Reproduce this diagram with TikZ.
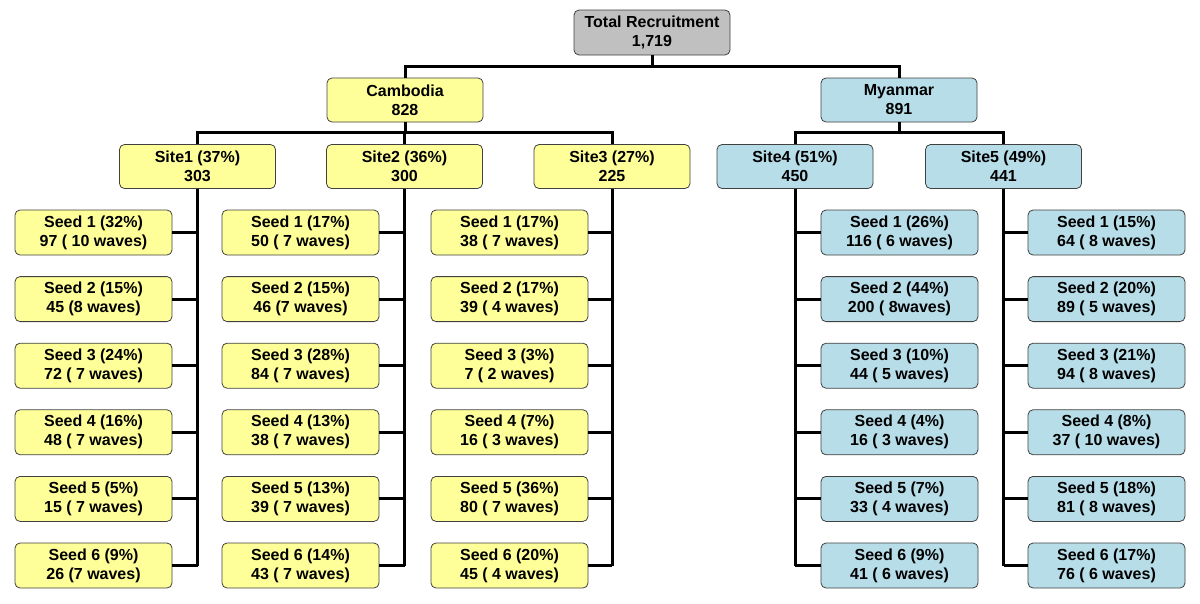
\documentclass[tikz,border=0pt]{standalone}
\usepackage{fontspec}
\setmainfont{Liberation Sans}
\definecolor{yel}{HTML}{FFFF99}
\definecolor{blu}{HTML}{B7DDE8}
\definecolor{gry}{HTML}{C0C0C0}
\begin{document}
\begin{tikzpicture}[x=1pt,y=-1pt,
  box/.style={draw=black!75, line width=0.8pt, rounded corners=5pt, minimum width=156pt, minimum height=44pt, inner sep=0pt, align=center, font=\bfseries\fontsize{16}{19}\selectfont},
  ybox/.style={box, fill=yel},
  bbox/.style={box, fill=blu},
  gbox/.style={box, fill=gry, minimum height=45pt},
  conn/.style={line width=3pt, black}]
\useasboundingbox (0,0) rectangle (1200,603);
\node[gbox] (T) at (652,32.5) {Total Recruitment\\1,719};
\node[ybox] (C) at (405,100) {Cambodia\\828};
\node[bbox] (M) at (899,100) {Myanmar\\891};
\node[ybox] (S1) at (197.5,166.5) {Site1 (37\%)\\303};
\node[ybox] (S2) at (404.5,166.5) {Site2 (36\%)\\300};
\node[ybox] (S3) at (612,166.5) {Site3 (27\%)\\225};
\node[bbox] (S4) at (795,166.5) {Site4 (51\%)\\450};
\node[bbox] (S5) at (1003.5,166.5) {Site5 (49\%)\\441};
% Site1 seeds
\foreach \i/\t in {1/{Seed 1 (32\%)\\97 ( 10 waves)},2/{Seed 2 (15\%)\\45 (8 waves)},3/{Seed 3 (24\%)\\72 ( 7 waves)},4/{Seed 4 (16\%)\\48 ( 7 waves)},5/{Seed 5 (5\%)\\15 ( 7 waves)},6/{Seed 6 (9\%)\\26 (7 waves)}}
  \node[ybox, minimum width=157pt, minimum height=45pt] (A\i) at (93.5,{232.5+66.6*(\i-1)}) {\t};
% Site2 seeds
\foreach \i/\t in {1/{Seed 1 (17\%)\\50 ( 7 waves)},2/{Seed 2 (15\%)\\46 (7 waves)},3/{Seed 3 (28\%)\\84 ( 7 waves)},4/{Seed 4 (13\%)\\38 ( 7 waves)},5/{Seed 5 (13\%)\\39 ( 7 waves)},6/{Seed 6 (14\%)\\43 ( 7 waves)}}
  \node[ybox, minimum width=157pt, minimum height=45pt] (B\i) at (300.5,{232.5+66.6*(\i-1)}) {\t};
% Site3 seeds
\foreach \i/\t in {1/{Seed 1 (17\%)\\38 ( 7 waves)},2/{Seed 2 (17\%)\\39 ( 4 waves)},3/{Seed 3 (3\%)\\7 ( 2 waves)},4/{Seed 4 (7\%)\\16 ( 3 waves)},5/{Seed 5 (36\%)\\80 ( 7 waves)},6/{Seed 6 (20\%)\\45 ( 4 waves)}}
  \node[ybox, minimum width=157pt, minimum height=45pt] (D\i) at (509.5,{232.5+66.6*(\i-1)}) {\t};
% Site4 seeds
\foreach \i/\t in {1/{Seed 1 (26\%)\\116 ( 6 waves)},2/{Seed 2 (44\%)\\200 ( 8waves)},3/{Seed 3 (10\%)\\44 ( 5 waves)},4/{Seed 4 (4\%)\\16 ( 3 waves)},5/{Seed 5 (7\%)\\33 ( 4 waves)},6/{Seed 6 (9\%)\\41 ( 6 waves)}}
  \node[bbox, minimum width=157pt, minimum height=45pt] (E\i) at (899.5,{232.5+66.6*(\i-1)}) {\t};
% Site5 seeds
\foreach \i/\t in {1/{Seed 1 (15\%)\\64 ( 8 waves)},2/{Seed 2 (20\%)\\89 ( 5 waves)},3/{Seed 3 (21\%)\\94 ( 8 waves)},4/{Seed 4 (8\%)\\37 ( 10 waves)},5/{Seed 5 (18\%)\\81 ( 8 waves)},6/{Seed 6 (17\%)\\76 ( 6 waves)}}
  \node[bbox, minimum width=157pt, minimum height=45pt] (F\i) at (1106.5,{232.5+66.6*(\i-1)}) {\t};
% junctions
\coordinate (jt) at (652,66);
\coordinate (jc) at (405,132);
\coordinate (jm) at (899,132);
% top level
\draw[conn] (T.south) -- (jt);
\draw[conn] (C.north) |- (jt) -| (M.north);
\draw[conn] (C.south) -- (jc);
\draw[conn] (S1.north) |- (jc) -| (S3.north);
\draw[conn] (S2.north) -- (S2.north |- jc);
\draw[conn] (M.south) -- (jm);
\draw[conn] (S4.north) |- (jm) -| (S5.north);
% site stems
\draw[conn] (S1.south) -- (S1.south |- A6.east);
\draw[conn] (S2.south) -- (S2.south |- B6.east);
\draw[conn] (S3.south) -- (S3.south |- D6.east);
\draw[conn] (S4.south) -- (S4.south |- E6.west);
\draw[conn] (S5.south) -- (S5.south |- F6.west);
\foreach \i in {1,...,6} {
  \draw[conn] (A\i.east) -- (A\i.east -| S1.south);
  \draw[conn] (B\i.east) -- (B\i.east -| S2.south);
  \draw[conn] (D\i.east) -- (D\i.east -| S3.south);
  \draw[conn] (E\i.west) -- (E\i.west -| S4.south);
  \draw[conn] (F\i.west) -- (F\i.west -| S5.south);
}
\end{tikzpicture}
\end{document}
